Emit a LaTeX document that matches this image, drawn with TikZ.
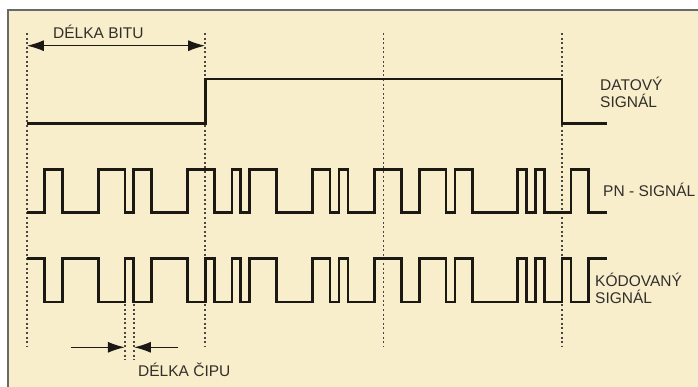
\documentclass[tikz,border=0pt]{standalone}
\usepackage{fontspec}
\setmainfont{Liberation Sans}
\usetikzlibrary{arrows.meta}
\definecolor{bg}{RGB}{248,238,204}
\definecolor{ink}{RGB}{28,24,20}
\definecolor{txt}{RGB}{50,47,43}
\definecolor{framec}{RGB}{105,105,105}
\begin{document}
\begin{tikzpicture}[x=1pt,y=-1pt,
  sig/.style={draw=ink,line width=2.8pt,line join=miter},
  grid/.style={draw=ink!80,line width=1.6pt,dash pattern=on 2pt off 2.6pt},
  tip/.style={},
  dimarrow/.style={draw=ink,line width=1.5pt,-{Latex[length=17pt,width=11pt]}},
  label/.style={text=txt,anchor=west,inner sep=0pt,align=left,font=\fontsize{15.5}{17}\selectfont}]
\useasboundingbox (0,0) rectangle (698,387);
\fill[white] (0,0) rectangle (698,387);
\fill[bg] (8,10) rectangle (698,387);
\draw[framec,line width=1.2pt] (8,387) -- (8,10) -- (698,10);
\begin{scope}[xshift=26.8pt,x=8.92pt]
  % bit boundary dotted lines
  \foreach \c/\n in {0/g0,20/g1,40/g2,60/g3}{
    \coordinate (\n t) at (\c,33);
    \coordinate (\n b) at (\c,347);
    \draw[grid] (\n t) -- (\n b);
  }
  % chip boundary dotted lines
  \foreach \c/\n in {11/c0,12/c1}{
    \coordinate (\n t) at (\c,304);
    \coordinate (\n b) at (\c,360);
    \draw[grid] (\n t) -- (\n b);
  }
  % data signal
  \draw[sig] (0,123.5) -| (20,79) -| (60,123.5) -- (65,123.5);
  % PN signal
  \def\H{169.5}\def\L{212.7}
  \draw[sig] (0,\L) -| (2,\H) -| (4,\L) -| (8,\H) -| (11,\L) -| (12,\H) -| (14,\L)
    -| (18,\H) -| (21,\L) -| (23,\H) -| (24,\L) -| (25,\H) -| (28,\L) -| (32,\H)
    -| (34,\L) -| (35,\H) -| (36,\L) -| (39,\H) -| (42,\L) -| (44,\H) -| (47,\L)
    -| (48,\H) -| (50,\L) -| (55,\H) -| (56,\L) -| (57,\H) -| (58,\L) -| (61,\H)
    -| (63,\L) -- (65,\L);
  % coded signal
  \def\H{258.7}\def\L{302}
  \draw[sig] (0,\H) -| (2,\L) -| (4,\H) -| (8,\L) -| (11,\H) -| (12,\L) -| (14,\H)
    -| (18,\L) -| (20,\H) -| (21,\L) -| (23,\H) -| (24,\L) -| (25,\H) -| (28,\L)
    -| (32,\H) -| (34,\L) -| (35,\H) -| (36,\L) -| (39,\H) -| (42,\L) -| (44,\H)
    -| (47,\L) -| (48,\H) -| (50,\L) -| (55,\H) -| (56,\L) -| (57,\H) -| (58,\L)
    -| (60,\H) -| (61,\L) -| (63,\H) -- (65,\H);
  % bit length arrow
  \coordinate (ba) at (0,45.7);
  \coordinate (bb) at (20,45.7);
  \draw[draw=ink,line width=1.5pt,{Latex[length=17pt,width=11pt]}-{Latex[length=17pt,width=11pt]}] (ba) -- (bb);
  % chip length arrows
  \coordinate (ca) at (5,347.3);
  \coordinate (cb) at (11,347.3);
  \coordinate (cc) at (17,347.3);
  \coordinate (cd) at (12,347.3);
  \draw[dimarrow] (ca) -- (cb);
  \draw[dimarrow] (cc) -- (cd);
\end{scope}
\node[label] (lbit) at (53,32) {DÉLKA BITU};
\node[label] (ldata) at (600,92.5) {DATOVÝ\\SIGNÁL};
\node[label] (lpn) at (603,190) {PN - SIGNÁL};
\node[label] (lcod) at (595,288.5) {KÓDOVANÝ\\SIGNÁL};
\node[label] (lchip) at (138,370) {DÉLKA ČIPU};
\end{tikzpicture}
\end{document}
